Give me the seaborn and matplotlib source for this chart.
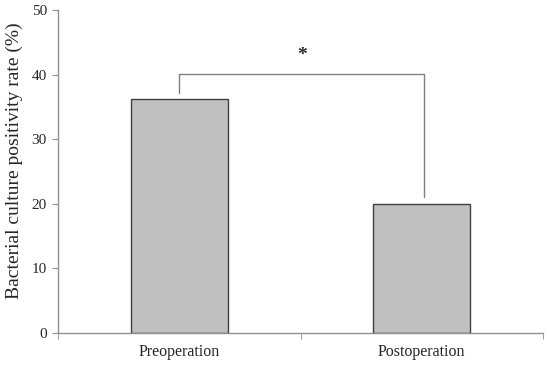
import matplotlib
matplotlib.use("Agg")
import matplotlib.pyplot as plt
import seaborn as sns
import pandas as pd

categories = ["Preoperation", "Postoperation"]
values = [36.3, 20.0]
y_ticks = [0, 10, 20, 30, 40, 50]

sns.set_style("white")
plt.rcParams['font.family'] = ['Liberation Serif', 'DejaVu Serif']

df = pd.DataFrame({"group": categories, "rate": values})

fig = plt.figure(figsize=(5.5, 3.66), dpi=100)
ax = fig.add_axes([58/550, 33/366, (543-58)/550, (333-10)/366])

sns.barplot(data=df, x="group", y="rate", ax=ax, width=0.4, color="#C0C0C0",
            saturation=1, edgecolor="#404040", linewidth=1.0)

ax.set_xlim(-0.5, 1.5)
ax.set_ylim(0, 50)
ax.set_yticks(y_ticks)
ax.set_yticklabels([str(t) for t in y_ticks], fontsize=11)
ax.set_xticks([0, 1])
ax.set_xticklabels(categories, fontsize=11.5)
ax.set_xticks([-0.5, 0.5, 1.5], minor=True)
ax.tick_params(axis="x", which="major", length=0, pad=8)
ax.tick_params(axis="x", which="minor", length=4, color="#909090", direction="out", bottom=True)
ax.tick_params(axis="y", length=4, color="#909090", direction="out", left=True, pad=4)
ax.set_xlabel("")
ax.set_ylabel("Bacterial culture positivity rate (%)", fontsize=14)
ax.yaxis.set_label_coords(-0.072, 0.535)

for s in ["top", "right"]:
    ax.spines[s].set_visible(False)
for s in ["left", "bottom"]:
    ax.spines[s].set_color("#909090")
    ax.spines[s].set_linewidth(1.0)

# significance bracket
x1, x2 = 0, 1.01
ytop = 40.1
ax.plot([x1, x1, x2, x2], [values[0] + 0.8, ytop, ytop, values[1] + 1.0],
        color="#808080", linewidth=1.0, clip_on=False)
ax.text((x1 + x2) / 2, ytop + 1.6, "*", ha="center", va="bottom", fontsize=14,
        fontweight="bold")

fig.savefig("out.png", dpi=100)
